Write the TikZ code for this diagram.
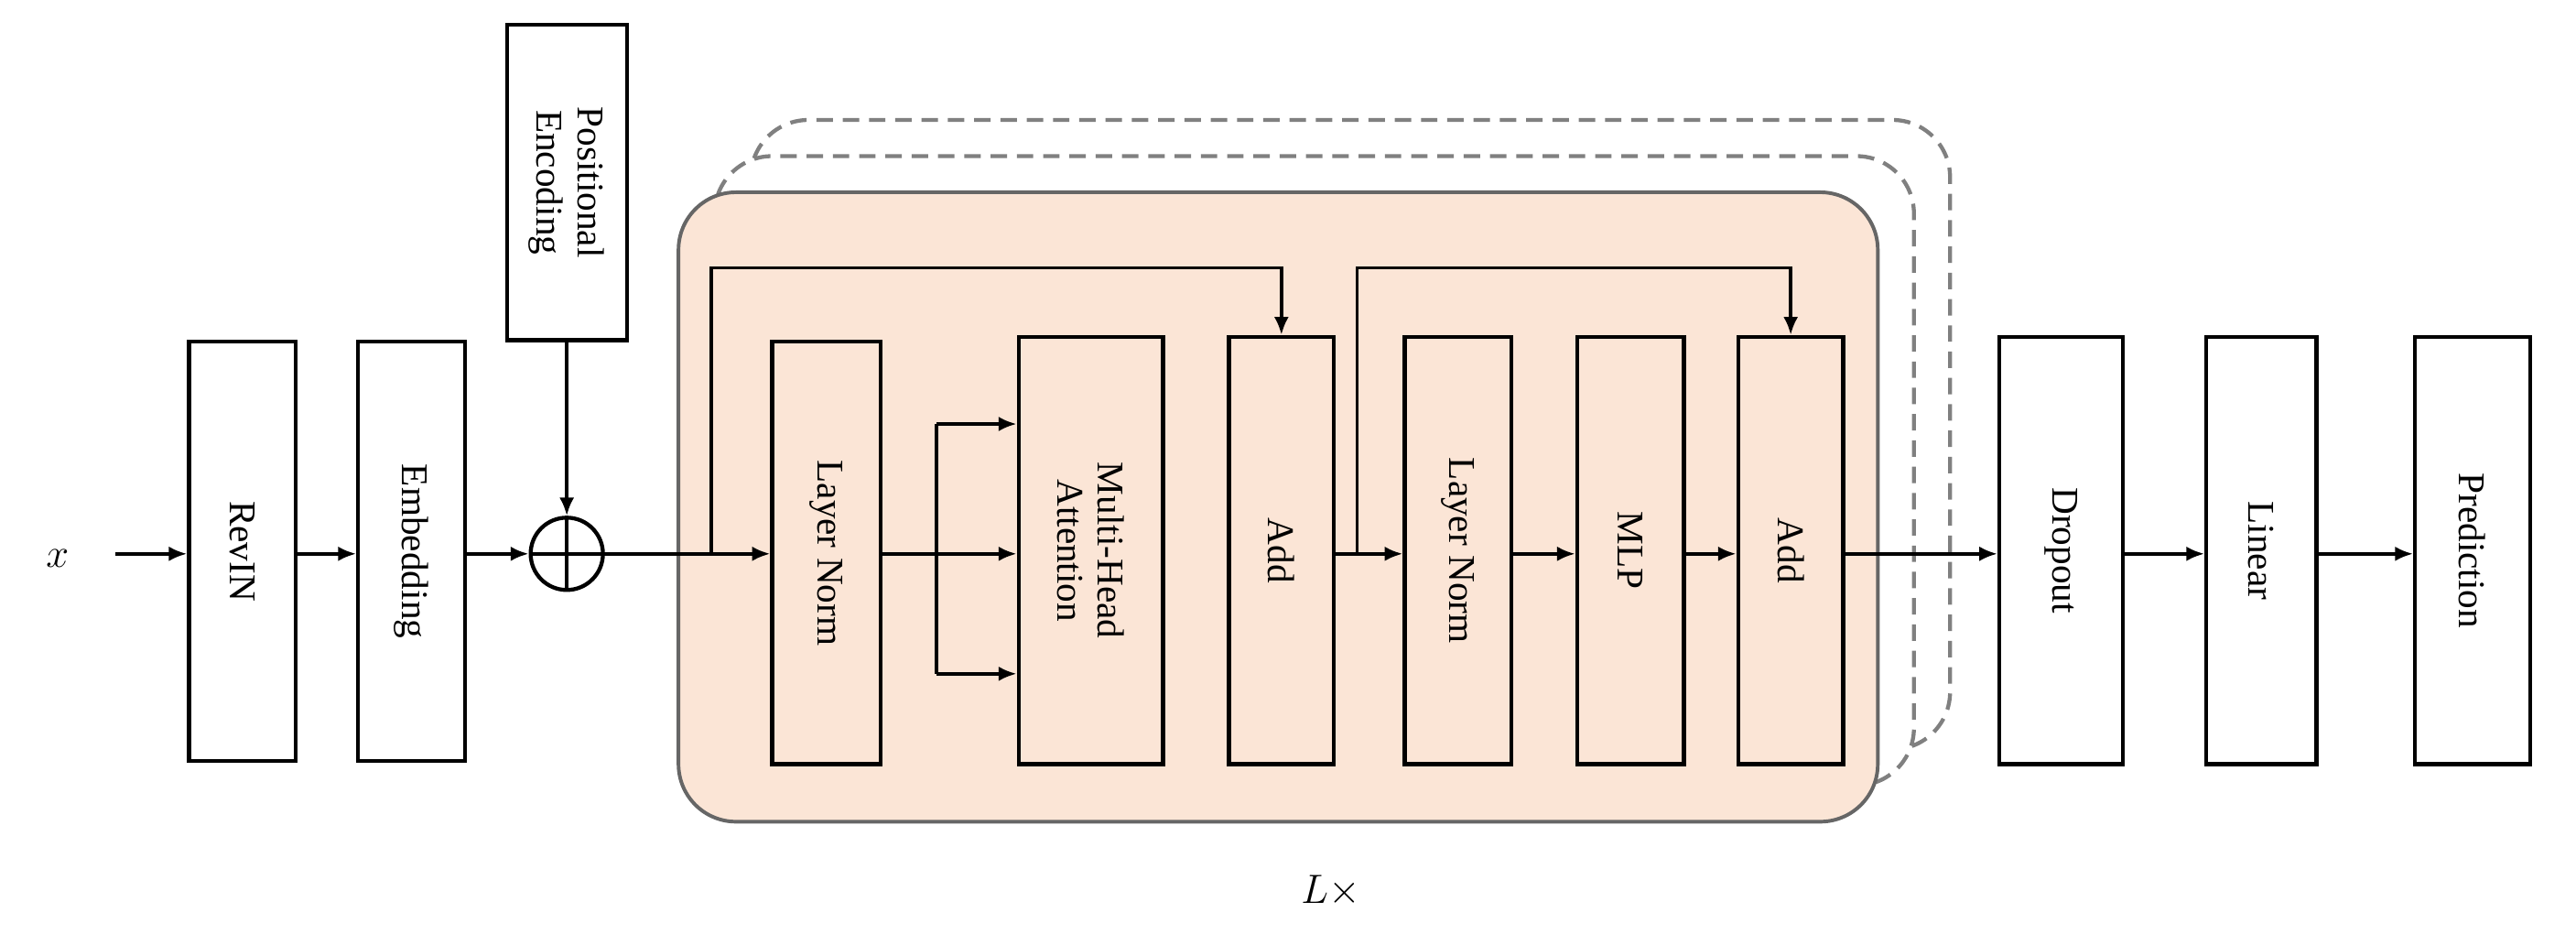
\documentclass[tikz,border=0pt]{standalone}
\usepackage{fontspec}
\setmainfont{Liberation Serif}
\usetikzlibrary{arrows.meta}
\begin{document}
\begin{tikzpicture}[x=1pt,y=-1pt,
 box/.style={draw,line width=2.4pt,fill=white,inner sep=0pt},
 ibox/.style={box,fill=none},
 arr/.style={-{Latex[length=11pt,width=9pt]},line width=2pt},
 ln/.style={line width=2pt}]
\useasboundingbox (0,0) rectangle (1568,575);
\definecolor{blk}{RGB}{251,229,214}
% stacked layers
\draw[dash pattern=on 10pt off 6pt,line width=2.4pt,gray,rounded corners=35pt,fill=white] (457,73) rectangle (1187,456);
\draw[dash pattern=on 10pt off 6pt,line width=2.4pt,gray,rounded corners=35pt,fill=white] (435,95) rectangle (1165,478);
\draw[line width=2.2pt,gray!80!black,rounded corners=35pt,fill=blk] (413,117) rectangle (1143,500);
\node at (810,542) {\fontsize{40}{42}\selectfont $L\times$};
\node (x) at (35,340) {\fontsize{50}{52}\selectfont $x$};
\newcommand{\bx}[5]{\node[#5,minimum width=#2pt,minimum height=#3pt] (#1) at #4 {};}
\bx{rev}{65}{255}{(147.5,335.5)}{box}
\bx{emb}{65}{255}{(250.5,335.5)}{box}
\bx{pe}{73}{192}{(345,111)}{box}
\bx{ln1}{66}{257}{(503,336.5)}{ibox}
\bx{mha}{88}{260}{(664,335)}{ibox}
\bx{add1}{64}{260}{(780,335)}{ibox}
\bx{ln2}{65}{260}{(887.5,335)}{ibox}
\bx{mlp}{65}{260}{(992.5,335)}{ibox}
\bx{add2}{64}{260}{(1090,335)}{ibox}
\bx{drop}{75}{260}{(1254.5,335)}{box}
\bx{lin}{67}{260}{(1376.5,335)}{box}
\bx{pred}{70}{260}{(1505,335)}{box}
\foreach \n/\t in {rev/RevIN,emb/Embedding,ln1/Layer Norm,mha/{Multi-Head\\Attention},add1/Add,ln2/Layer Norm,mlp/MLP,add2/Add,drop/Dropout,lin/Linear,pred/Prediction,pe/{Positional\\Encoding}}
  \node[rotate=-90,font=\fontsize{23}{25}\selectfont,align=center] at (\n) {\t};
\node[draw,circle,line width=2.4pt,minimum size=44pt,inner sep=0pt] (plus) at (345,337) {};
\draw[line width=2.4pt] (plus.north)--(plus.south) (plus.west)--(plus.east);
\draw[arr] (70,337) -- (rev.west|-0,337);
\draw[arr] (rev.east|-0,337) -- (emb.west|-0,337);
\draw[arr] (emb.east|-0,337) -- (plus.west);
\draw[arr] (pe.south) -- (plus.north);
\draw[arr] (plus.east) -- (ln1.west|-0,337);
\draw[arr] (ln1.east|-0,337) -- (mha.west|-0,337);
\draw[ln] (570,258) -- (570,410);
\draw[arr] (570,258) -- (mha.west|-0,258);
\draw[arr] (570,410) -- (mha.west|-0,410);
\draw[arr] (add1.east|-0,337) -- (ln2.west|-0,337);
\draw[arr] (ln2.east|-0,337) -- (mlp.west|-0,337);
\draw[arr] (mlp.east|-0,337) -- (add2.west|-0,337);
\draw[arr] (add2.east|-0,337) -- (drop.west|-0,337);
\draw[arr] (drop.east|-0,337) -- (lin.west|-0,337);
\draw[arr] (lin.east|-0,337) -- (pred.west|-0,337);
\draw[arr] (433,337) -- (433,163) -- (780,163) -- (add1.north);
\draw[arr] (826,337) -- (826,163) -- (1090,163) -- (add2.north);
\end{tikzpicture}
\end{document}
